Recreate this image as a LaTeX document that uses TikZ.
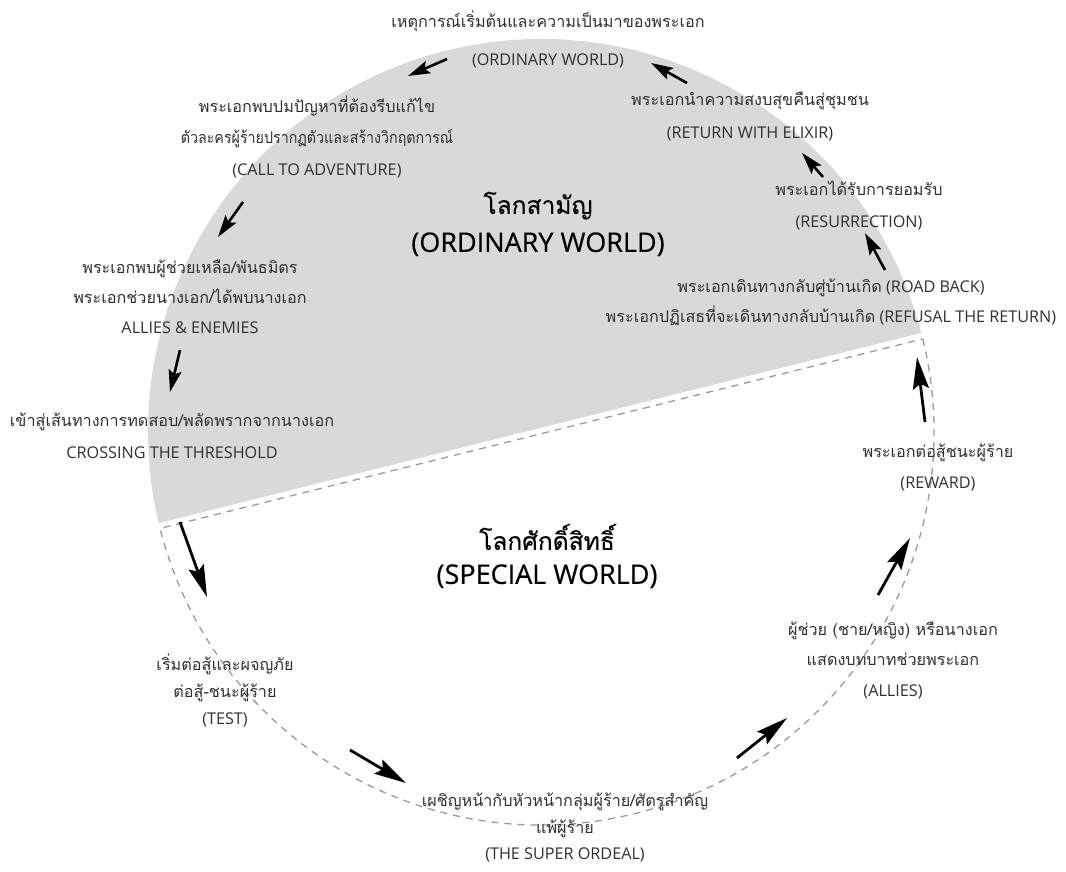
\documentclass[tikz,border=0pt]{standalone}
\usepackage{fontspec}
\setmainfont{Open Sans}
\newfontfamily\titlefont[FakeBold=0.4]{Open Sans}
\newfontfamily\thai[Script=Thai]{Loma}
\newfontfamily\thaiT[Script=Thai,Scale=0.91,FakeBold=0.4]{Loma}
\newcommand{\T}[1]{{\thai #1}}
\newcommand{\TT}[1]{{\thaiT #1}}
\usetikzlibrary{arrows.meta}
\definecolor{segfill}{HTML}{D9D9D9}
\definecolor{txt}{HTML}{303030}
\definecolor{dashc}{HTML}{9A9A9A}
\tikzset{
  lbl/.style={text=txt, align=center, inner sep=0pt, font=\fontsize{16.2pt}{#1pt}\selectfont},
  lbl/.default=31,
  ttl/.style={text=black, align=center, inner sep=0pt, font=\titlefont\fontsize{27pt}{#1pt}\selectfont},
  ttl/.default=38,
  arr/.style={line width=2.6pt, black, -{Stealth[length=22pt,width=13pt,inset=4pt]}},
  arrL/.style={line width=2.8pt, black, -{Stealth[length=32pt,width=16pt,inset=5pt]}},
  dsh/.style={dashc, line width=1.3pt, dash pattern=on 7pt off 6pt}
}
\begin{document}
\begin{tikzpicture}[x=1pt,y=-1pt]
\useasboundingbox (0,0) rectangle (1066,872);
% grey segment (ordinary world)
\coordinate (O) at (541,432);
\fill[segfill] (O) ++(166.6:393) arc[start angle=166.6, end angle=345.4, radius=393] -- cycle;
% special world outline
\path (O) ++(165.8:393) coordinate (SL);
\path (O) ++(-13.7:393) coordinate (SR);
\draw[dsh] (SR) arc[start angle=-13.7, end angle=165.8, radius=393] -- (SR);

% titles
\node[ttl] (ordt) at (538,224) {\TT{โลกสามัญ}\\(ORDINARY WORLD)};
\node[ttl=34] (spect) at (547,556) {\TT{โลกศักดิ์สิทธิ์}\\(SPECIAL WORLD)};

% labels
\node[lbl=38] (ord) at (548,39) {\T{เหตุการณ์เริ่มต้นและความเป็นมาของพระเอก}\\(ORDINARY WORLD)};
\node[lbl=31.5] (call) at (317,136.5) {\T{พระเอกพบปมปัญหาที่ต้องรีบแก้ไข}\\\scalebox{0.88}[1]{\T{ตัวละครผู้ร้ายปรากฏตัวและสร้างวิกฤตการณ์}}\\(CALL TO ADVENTURE)};
\node[lbl=30] (alen) at (190,297) {\T{พระเอกพบผู้ช่วยเหลือ/พันธมิตร}\\\T{พระเอกช่วยนางเอก/ได้พบนางเอก}\\ALLIES \& ENEMIES};
\node[lbl=32] (cross) at (172,436) {\T{เข้าสู่เส้นทางการทดสอบ/พลัดพรากจากนางเอก}\\CROSSING THE THRESHOLD};
\node[lbl=27] (test) at (225,690) {\T{เริ่มต่อสู้และผจญภัย}\\\T{ต่อสู้-ชนะผู้ร้าย}\\(TEST)};
\node[lbl=26.5] (ordeal) at (565,828) {\T{เผชิญหน้ากับหัวหน้ากลุ่มผู้ร้าย/ศัตรูสำคัญ}\\\T{แพ้ผู้ร้าย}\\(THE SUPER ORDEAL)};
\node[lbl=30.5] (allies) at (893,660) {\T{ผู้ช่วย (ชาย/หญิง) หรือนางเอก}\\\T{แสดงบทบาทช่วยพระเอก}\\(ALLIES)};
\node[lbl=31] (reward) at (938,467.5) {\T{พระเอกต่อสู้ชนะผู้ร้าย}\\(REWARD)};
\node[lbl=30] (road) at (831,302) {\T{พระเอกเดินทางกลับศู่บ้านเกิด} (ROAD BACK)\\\T{พระเอกปฏิเสธที่จะเดินทางกลับบ้านเกิด} (REFUSAL THE RETURN)};
\node[lbl=32] (resur) at (859,206) {\T{พระเอกได้รับการยอมรับ}\\(RESURRECTION)};
\node[lbl=33] (ret) at (750,116.5) {\T{พระเอกนำความสงบสุขคืนสู่ชุมชน}\\(RETURN WITH ELIXIR)};

% arrow end points
\coordinate (a1s) at (447,59);  \coordinate (a1e) at (408,76);
\coordinate (a2s) at (243,202); \coordinate (a2e) at (218,237);
\coordinate (a3s) at (180,350); \coordinate (a3e) at (170,392);
\coordinate (a4s) at (180,522); \coordinate (a4e) at (207,597);
\coordinate (a5s) at (350,750); \coordinate (a5e) at (406,783);
\coordinate (a6s) at (737,758); \coordinate (a6e) at (787,718);
\coordinate (a7s) at (878,595); \coordinate (a7e) at (910,538);
\coordinate (a8s) at (925,422); \coordinate (a8e) at (917,357);
\coordinate (a9s) at (885,270); \coordinate (a9e) at (865,233);
\coordinate (a10s) at (823,177); \coordinate (a10e) at (802,153);
\coordinate (a11s) at (687,83); \coordinate (a11e) at (651,63);

\draw[arr] (a1s) -- (a1e);
\draw[arr] (a2s) -- (a2e);
\draw[arr] (a3s) -- (a3e);
\draw[arrL] (a4s) -- (a4e);
\draw[arrL] (a5s) -- (a5e);
\draw[arrL] (a6s) -- (a6e);
\draw[arrL] (a7s) -- (a7e);
\draw[arrL] (a8s) -- (a8e);
\draw[arr] (a9s) -- (a9e);
\draw[arr] (a10s) -- (a10e);
\draw[arr] (a11s) -- (a11e);
\end{tikzpicture}
\end{document}
